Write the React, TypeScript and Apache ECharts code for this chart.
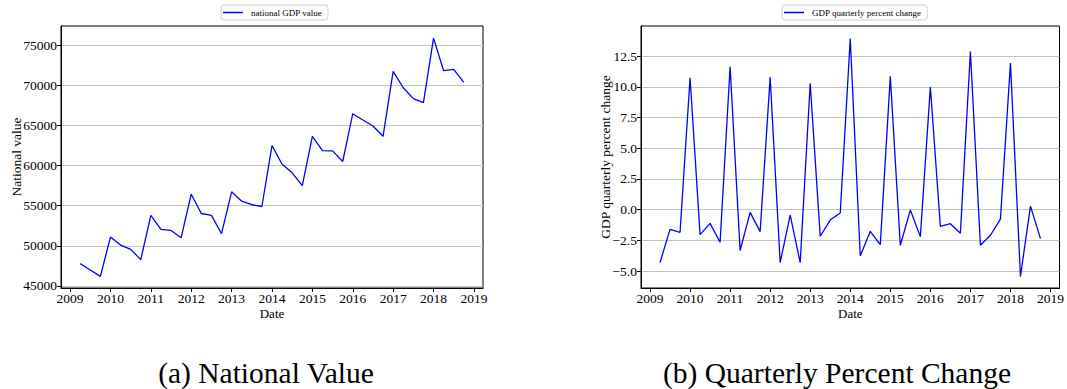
import React, { useEffect, useRef } from "react";
import * as echarts from "echarts";

// Quarter ends (Q1 = end of March), 2009Q1 .. 2018Q3
const quarters = [
  "2009Q1", "2009Q2", "2009Q3", "2009Q4",
  "2010Q1", "2010Q2", "2010Q3", "2010Q4",
  "2011Q1", "2011Q2", "2011Q3", "2011Q4",
  "2012Q1", "2012Q2", "2012Q3", "2012Q4",
  "2013Q1", "2013Q2", "2013Q3", "2013Q4",
  "2014Q1", "2014Q2", "2014Q3", "2014Q4",
  "2015Q1", "2015Q2", "2015Q3", "2015Q4",
  "2016Q1", "2016Q2", "2016Q3", "2016Q4",
  "2017Q1", "2017Q2", "2017Q3", "2017Q4",
  "2018Q1", "2018Q2", "2018Q3",
];

const nationalValue = [
  47780, 47000, 46200, 51090, 50100, 49560, 48280, 53790, 52050, 51920,
  51020, 56430, 54030, 53790, 51510, 56730, 55560, 55120, 54900, 62490,
  60160, 59090, 57510, 63640, 61860, 61830, 60500, 66460, 65680, 64930,
  63640, 71720, 69690, 68330, 67830, 75870, 71810, 71970, 70350,
];

const pctChange = [
  -4.3, -1.6, -1.84, 10.74, -2.03, -1.11, -2.65, 11.63, -3.32, -0.22,
  -1.78, 10.77, -4.3, -0.44, -4.3, 10.29, -2.16, -0.84, -0.27, 13.93,
  -3.76, -1.76, -2.84, 10.85, -2.89, -0.03, -2.19, 9.99, -1.35, -1.14,
  -1.92, 12.88, -2.89, -2.08, -0.76, 11.93, -5.43, 0.29, -2.35,
];

const yearTicks = [2009, 2010, 2011, 2012, 2013, 2014, 2015, 2016, 2017, 2018, 2019];
const valueTicks = [45000, 50000, 55000, 60000, 65000, 70000, 75000];
const pctTicks = [-5, -2.5, 0, 2.5, 5, 7.5, 10, 12.5];

const seriesNames = ["national GDP value", "GDP quarterly percent change"];
const captions = ["(a) National Value", "(b) Quarterly Percent Change"];

const toYear = (q: string) => Number(q.slice(0, 4)) + Number(q.slice(5)) * 0.25;

const FONT = "Liberation Serif";

export default function App() {
  const ref = useRef<HTMLDivElement>(null);
  useEffect(() => {
    document.body.style.margin = "0";
    const chart = echarts.init(ref.current!, undefined, { renderer: "svg" });
    const axisText = { fontFamily: FONT, fontSize: 13.5, color: "#000" };
    const makeX = (gi: number) => ({
      gridIndex: gi,
      type: "value",
      min: 2008.775,
      max: 2019.225,
      axisLine: { show: true, onZero: false, lineStyle: { color: "#000", width: 1 } },
      axisTick: { show: true, customValues: yearTicks, length: 4, lineStyle: { color: "#000" } },
      axisLabel: { customValues: yearTicks, formatter: (v: number) => String(v), margin: 3, ...axisText },
      splitLine: { show: false },
      name: "Date",
      nameLocation: "middle",
      nameGap: 19,
      nameMoveOverlap: false,
      nameTextStyle: { fontFamily: FONT, fontSize: 13, color: "#000" },
    });
    const makeY = (gi: number, min: number, max: number, ticks: number[], fmt: (v: number) => string, name: string, gap: number) => ({
      gridIndex: gi,
      type: "value",
      min,
      max,
      axisLine: { show: true, onZero: false, lineStyle: { color: "#000", width: 1 } },
      axisTick: { show: true, customValues: ticks, length: 4, lineStyle: { color: "#000" } },
      axisLabel: { customValues: ticks, formatter: fmt, margin: 4, ...axisText },
      splitLine: { show: true, lineStyle: { color: "#c4c4c4", width: 1.2 } },
      name,
      nameLocation: "middle",
      nameGap: gap,
      nameMoveOverlap: false,
      nameTextStyle: { fontFamily: FONT, fontSize: 13.5, color: "#000" },
    });
    const legendBase = {
      top: 5,
      orient: "horizontal",
      icon: "rect",
      itemWidth: 20,
      itemHeight: 1.5,
      itemGap: 4,
      padding: [3, 6, 3, 2],
      borderColor: "#d0d0d0",
      borderWidth: 1,
      borderRadius: 3,
      textStyle: { fontFamily: FONT, fontSize: 9, color: "#000", padding: [0, 0, 0, 3] },
    };
    chart.setOption({
      animation: false,
      backgroundColor: "#fff",
      grid: [
        { left: 61, top: 26, width: 422, height: 262, show: true, borderColor: "#000", borderWidth: 1, backgroundColor: "transparent" },
        { left: 641, top: 26, width: 421, height: 262, show: true, borderColor: "#000", borderWidth: 1, backgroundColor: "transparent" },
      ],
      legend: [
        { ...legendBase, left: 221, data: [seriesNames[0]] },
        { ...legendBase, left: 782, data: [seriesNames[1]] },
      ],
      xAxis: [makeX(0), makeX(1)],
      yAxis: [
        makeY(0, 44750, 77380, valueTicks, (v: number) => String(v), "National value", 38),
        makeY(1, -6.37, 14.95, pctTicks, (v: number) => (v < 0 ? "\u2212" + Math.abs(v).toFixed(1) : v.toFixed(1)), "GDP quarterly percent change", 29),
      ],
      series: [
        {
          name: seriesNames[0],
          type: "line",
          xAxisIndex: 0,
          yAxisIndex: 0,
          symbol: "none",
          lineStyle: { color: "#0000ff", width: 1.3 },
          itemStyle: { color: "#0000ff" },
          data: quarters.map((q, i) => [toYear(q), nationalValue[i]]),
        },
        {
          name: seriesNames[1],
          type: "line",
          xAxisIndex: 1,
          yAxisIndex: 1,
          symbol: "none",
          lineStyle: { color: "#0000ff", width: 1.3 },
          itemStyle: { color: "#0000ff" },
          data: quarters.map((q, i) => [toYear(q), pctChange[i]]),
        },
      ],
      graphic: [
        { type: "text", x: 266, y: 373, style: { text: captions[0], fontFamily: FONT, fontSize: 29.5, fill: "#000", textAlign: "center", textVerticalAlign: "middle" } },
        { type: "text", x: 837, y: 373, style: { text: captions[1], fontFamily: FONT, fontSize: 29.5, fill: "#000", textAlign: "center", textVerticalAlign: "middle" } },
      ],
    });
    return () => chart.dispose();
  }, []);
  return <div ref={ref} style={{ width: 1067, height: 389 }} />;
}
